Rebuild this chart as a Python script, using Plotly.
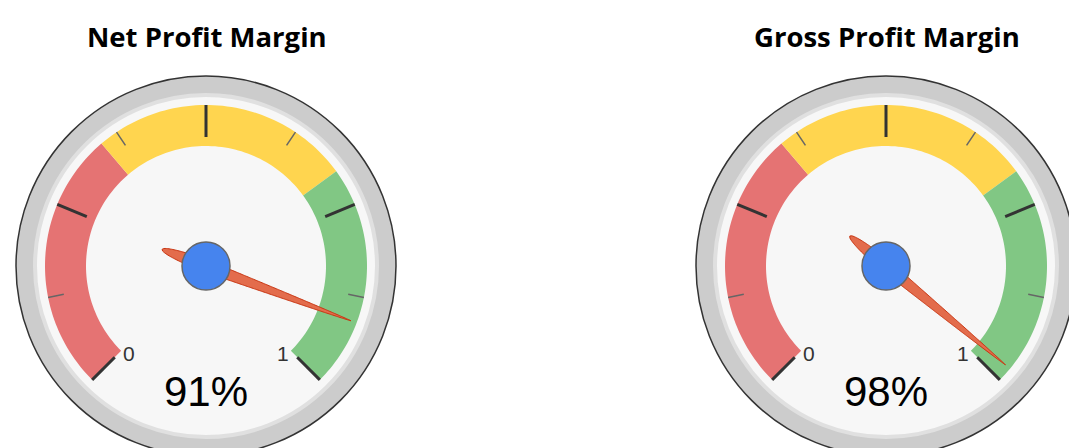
import numpy as np
import plotly.graph_objects as go

# ---- data ----
titles = ["Net Profit Margin", "Gross Profit Margin"]
values = [0.91, 0.98]
value_labels = ["91%", "98%"]
gauge_min = 0
gauge_max = 1
band_from = [0.0, 0.35, 0.70]
band_to = [0.35, 0.70, 1.0]
band_colors = ["#E57373", "#FFD54F", "#81C784"]
major_ticks = [0, 0.25, 0.5, 0.75, 1]
minor_ticks = [0.125, 0.375, 0.625, 0.875]
end_labels = ["0", "1"]

# ---- geometry ----
W, H = 1069, 448
centers_x = [206, 886]
CY = 266
R_OUT = 190
R_INNER = 171
R_BAND_OUT = 161
R_BAND_IN = 120


def ang(v):
    return np.radians(-135 + (v - gauge_min) / (gauge_max - gauge_min) * 270)


def pt(cx, r, a):
    return cx + r * np.sin(a), CY - r * np.cos(a)


def path_from(points, close=True):
    s = "M " + " L ".join(f"{x:.2f},{y:.2f}" for x, y in points)
    return s + (" Z" if close else "")


shapes = []
annotations = []

for i, cx in enumerate(centers_x):
    # outer rim
    shapes.append(dict(type="circle", xref="x", yref="y",
                       x0=cx - R_OUT, x1=cx + R_OUT, y0=CY - R_OUT, y1=CY + R_OUT,
                       fillcolor="#CCCCCC", line=dict(color="#333333", width=1.5)))
    shapes.append(dict(type="circle", xref="x", yref="y",
                       x0=cx - R_INNER, x1=cx + R_INNER, y0=CY - R_INNER, y1=CY + R_INNER,
                       fillcolor="#F7F7F7", line=dict(color="#E0E0E0", width=4)))
    # bands
    for f, t, c in zip(band_from, band_to, band_colors):
        a = np.linspace(ang(f), ang(t), 60)
        pts = [pt(cx, R_BAND_OUT, x) for x in a] + [pt(cx, R_BAND_IN, x) for x in a[::-1]]
        shapes.append(dict(type="path", xref="x", yref="y", path=path_from(pts),
                           fillcolor=c, line=dict(width=0)))
    # ticks
    for v in major_ticks:
        a = ang(v)
        p0, p1 = pt(cx, 129, a), pt(cx, 161, a)
        shapes.append(dict(type="line", xref="x", yref="y", x0=p0[0], y0=p0[1], x1=p1[0], y1=p1[1],
                           line=dict(color="#333333", width=3)))
    for v in minor_ticks:
        a = ang(v)
        p0, p1 = pt(cx, 145, a), pt(cx, 161, a)
        shapes.append(dict(type="line", xref="x", yref="y", x0=p0[0], y0=p0[1], x1=p1[0], y1=p1[1],
                           line=dict(color="#666666", width=1.5)))
    # needle
    a = ang(values[i])
    ts = np.linspace(-47, 155, 160)
    hw = np.where(ts < 0, 6.0 * np.sqrt(np.clip(1 - (ts / 47) ** 2, 0, 1)),
                  6.0 * np.clip(1 - ts / 155, 0, 1) ** 0.8)
    ux, uy = np.sin(a), -np.cos(a)
    px, py = -uy, ux
    side1 = [(cx + t * ux + w * px, CY + t * uy + w * py) for t, w in zip(ts, hw)]
    side2 = [(cx + t * ux - w * px, CY + t * uy - w * py) for t, w in zip(ts[::-1], hw[::-1])]
    shapes.append(dict(type="path", xref="x", yref="y", path=path_from(side1 + side2),
                       fillcolor="#E36C4C", line=dict(color="#C8330F", width=1)))
    # hub
    shapes.append(dict(type="circle", xref="x", yref="y",
                       x0=cx - 24, x1=cx + 24, y0=CY - 24, y1=CY + 24,
                       fillcolor="#4684EE", line=dict(color="#666666", width=1.5)))
    # texts
    annotations.append(dict(x=cx + 1, y=36, xref="x", yref="y", text=f"<b>{titles[i]}</b>",
                            showarrow=False, xanchor="center", yanchor="middle",
                            font=dict(family="Open Sans", size=27.5, color="#000000")))
    annotations.append(dict(x=cx, y=391, xref="x", yref="y", text=value_labels[i],
                            showarrow=False, xanchor="center", yanchor="middle",
                            font=dict(family="Liberation Sans, Arial", size=42, color="#000000")))
    annotations.append(dict(x=cx - 77, y=353, xref="x", yref="y", text=end_labels[0],
                            showarrow=False, xanchor="center", yanchor="middle",
                            font=dict(family="Liberation Sans, Arial", size=21, color="#333333")))
    annotations.append(dict(x=cx + 77, y=353, xref="x", yref="y", text=end_labels[1],
                            showarrow=False, xanchor="center", yanchor="middle",
                            font=dict(family="Liberation Sans, Arial", size=21, color="#333333")))

fig = go.Figure()
fig.add_trace(go.Scatter(x=[0, W], y=[0, H], mode="markers", marker=dict(opacity=0),
                         hoverinfo="skip", showlegend=False))
fig.update_layout(
    width=W, height=H,
    margin=dict(l=0, r=0, t=0, b=0),
    paper_bgcolor="white", plot_bgcolor="white",
    xaxis=dict(range=[0, W], visible=False, fixedrange=True),
    yaxis=dict(range=[H, 0], visible=False, fixedrange=True),
    shapes=shapes, annotations=annotations, showlegend=False,
)
fig.write_html("out.html", config={"displayModeBar": False},
               post_script="document.body.style.margin='0';document.body.style.overflow='hidden';")
